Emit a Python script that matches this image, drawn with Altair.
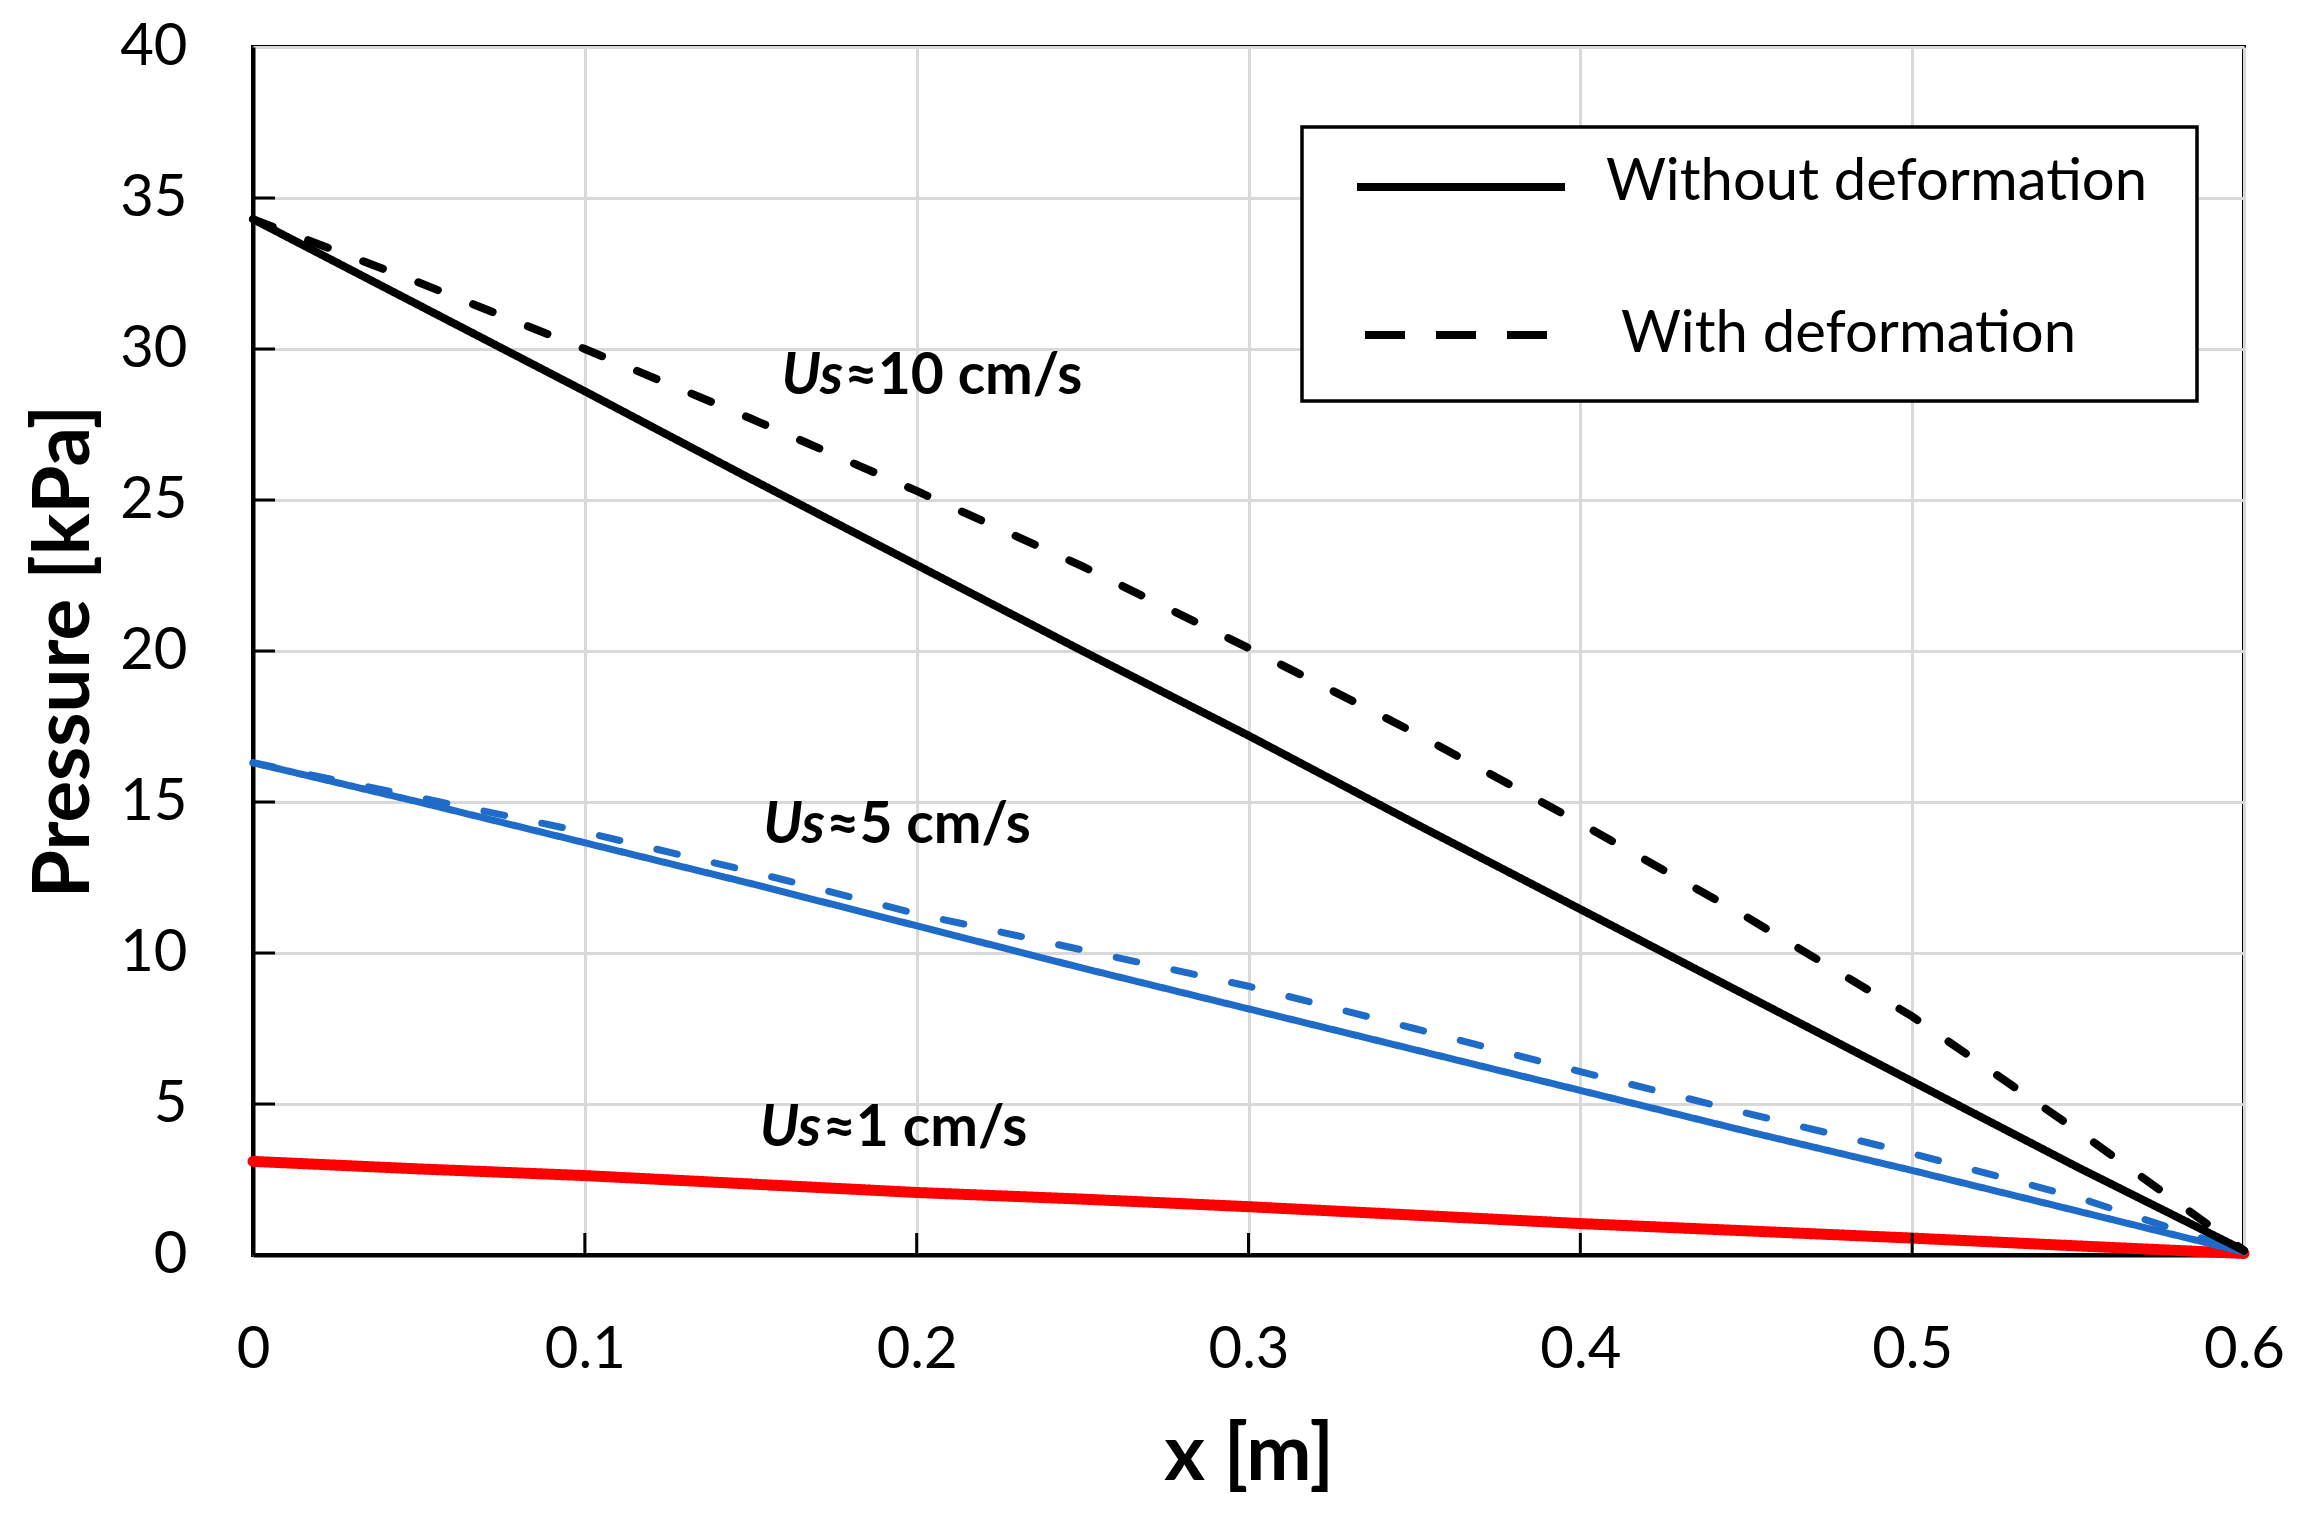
import altair as alt
import pandas as pd

# ---------------- data ----------------
x_m = [0.0, 0.05, 0.1, 0.15, 0.2, 0.25, 0.3, 0.35, 0.4, 0.45, 0.5, 0.55, 0.6]

us10_without = [34.3, 31.45, 28.6, 25.7, 22.85, 20.0, 17.2, 14.3, 11.45, 8.6, 5.75, 2.9, 0.15]
us10_with = [34.3, 32.2, 30.0, 27.7, 25.3, 22.8, 20.1, 17.3, 14.3, 11.2, 7.9, 4.1, 0.15]
us5_without = [16.3, 15.0, 13.65, 12.3, 10.9, 9.5, 8.15, 6.8, 5.45, 4.1, 2.8, 1.45, 0.1]
us5_with = [16.3, 15.15, 14.0, 12.7, 11.3, 10.1, 8.9, 7.5, 6.07, 4.7, 3.36, 1.9, 0.1]
us1_without = [3.1, 2.85, 2.63, 2.35, 2.07, 1.85, 1.6, 1.32, 1.04, 0.8, 0.56, 0.3, 0.05]

speeds = ["10", "5", "1"]
speed_colors = ["#000000", "#1f6bc8", "#ff0000"]
speed_widths = [8, 7, 11]
types = ["Without deformation", "With deformation"]

label_x = [0.1593, 0.1538, 0.1527]
label_y = [28.5, 13.65, 3.62]
label_rest = ["≈10 cm/s", "≈5 cm/s", "≈1 cm/s"]

x_ticks = [0, 0.1, 0.2, 0.3, 0.4, 0.5, 0.6]
y_ticks = [0, 5, 10, 15, 20, 25, 30, 35, 40]
x_inner_ticks = [0.1, 0.2, 0.3, 0.4, 0.5]
y_inner_ticks = [5, 10, 15, 20, 25, 30, 35]

FONT = "Lato"
W, H = 1991, 1208

# ---------------- tables ----------------
rows = []
for name, vals, sp, tp in [
    ("a", us10_without, "10", types[0]),
    ("b", us10_with, "10", types[1]),
    ("c", us5_without, "5", types[0]),
    ("d", us5_with, "5", types[1]),
    ("e", us1_without, "1", types[0]),
]:
    for xv, pv in zip(x_m, vals):
        rows.append({"x": xv, "p": pv, "speed": sp, "type": tp, "series": name})
df = pd.DataFrame(rows)

labels_df = pd.DataFrame({"x": label_x, "p": label_y, "us": ["Us"] * 3, "rest": label_rest})
xt_df = pd.DataFrame({"x": x_inner_ticks})
yt_df = pd.DataFrame({"p": y_inner_ticks})
one = pd.DataFrame({"k": [0]})

xscale = alt.Scale(domain=[0, 0.6], nice=False, zero=False)
yscale = alt.Scale(domain=[0, 40], nice=False)

xaxis = alt.Axis(
    values=x_ticks, format=".1~f", title="x [m]", grid=True, ticks=False, tickSize=0,
    labelPadding=112, labelBaseline="alphabetic", labelFontSize=58, labelFont=FONT,
    labelColor="#000000", titleFont=FONT, titleFontSize=78, titleFontWeight="bold",
    titleColor="#000000", titleY=224, titleBaseline="alphabetic",
    domainColor="#000000", domainWidth=4, gridColor="#d9d9d9", gridWidth=3,
    labelFlush=False, labelOverlap=False,
)
yaxis = alt.Axis(
    values=y_ticks, title="Pressure [kPa]", grid=True, ticks=False, tickSize=0,
    labelPadding=66, labelFontSize=58, labelFont=FONT, labelColor="#000000",
    titleFont=FONT, titleFontSize=78, titleFontWeight="bold", titleColor="#000000",
    titleX=-165, titleY=H / 2, titleBaseline="alphabetic", titleAngle=270,
    domainColor="#000000", domainWidth=4, gridColor="#d9d9d9", gridWidth=3,
    labelFlush=False, labelOverlap=False,
)


def speed_layer(i):
    sp = speeds[i]
    w = speed_widths[i]
    dash_on = 32 - w
    dash_off = 27 + w
    return alt.Chart(df).transform_filter(alt.datum.speed == sp).mark_line(
        strokeCap="round", strokeWidth=w, color=speed_colors[i]
    ).encode(
        x=alt.X("x:Q", scale=xscale, axis=xaxis),
        y=alt.Y("p:Q", scale=yscale, axis=yaxis),
        strokeDash=alt.StrokeDash(
            "type:N", scale=alt.Scale(domain=types, range=[[1, 0], [dash_on, dash_off]]), legend=None
        ),
        detail="series:N",
    )


red_line = speed_layer(2)
blue_line = speed_layer(1)
black_line = speed_layer(0)

us_text = alt.Chart(labels_df).mark_text(
    align="left", baseline="alphabetic", font=FONT, fontSize=57, fontWeight="bold",
    fontStyle="italic", color="#000000",
).encode(x=alt.X("x:Q", scale=xscale, axis=xaxis), y=alt.Y("p:Q", scale=yscale, axis=yaxis), text="us:N")

rest_text = alt.Chart(labels_df).mark_text(
    align="left", baseline="alphabetic", font=FONT, fontSize=57, fontWeight="bold",
    color="#000000", dx=63,
).encode(x=alt.X("x:Q", scale=xscale, axis=xaxis), y=alt.Y("p:Q", scale=yscale, axis=yaxis), text="rest:N")

# inner tick marks
xticks_marks = alt.Chart(xt_df).mark_rule(color="#000000", strokeWidth=3).encode(
    x=alt.X("x:Q", scale=xscale, axis=xaxis), y=alt.value(H - 22), y2=alt.value(H)
)
yticks_marks = alt.Chart(yt_df).mark_rule(color="#000000", strokeWidth=3).encode(
    y=alt.Y("p:Q", scale=yscale, axis=yaxis), x=alt.value(0), x2=alt.value(22)
)

# legend (drawn in the plot area)
leg_box = alt.Chart(one).mark_rect(fill="white", stroke="#000000", strokeWidth=3.5).encode(
    x=alt.value(1049), x2=alt.value(1944), y=alt.value(80), y2=alt.value(354)
)
leg_solid = alt.Chart(one).mark_rule(color="#000000", strokeWidth=8, strokeCap="butt").encode(
    x=alt.value(1104), x2=alt.value(1312), y=alt.value(140)
)
leg_dash = alt.Chart(one).mark_rule(
    color="#000000", strokeWidth=8, strokeCap="butt", strokeDash=[40, 31]
).encode(x=alt.value(1112), x2=alt.value(1295), y=alt.value(288))
leg_t1 = alt.Chart(one).mark_text(
    align="left", baseline="alphabetic", font=FONT, fontSize=58, color="#000000"
).encode(x=alt.value(1353), y=alt.value(153), text=alt.value(types[0]))
leg_t2 = alt.Chart(one).mark_text(
    align="left", baseline="alphabetic", font=FONT, fontSize=58, color="#000000"
).encode(x=alt.value(1368), y=alt.value(305), text=alt.value(types[1]))

chart = alt.layer(
    red_line, blue_line, black_line, us_text, rest_text, xticks_marks, yticks_marks,
    leg_box, leg_solid, leg_dash, leg_t1, leg_t2,
).properties(
    width=W, height=H,
    autosize=alt.AutoSizeParams(type="none"),
    padding={"left": 245, "top": 39, "right": 52, "bottom": 250},
    background="white",
).configure_view(
    stroke="#000000", strokeWidth=4
)

chart.save("out.html", embed_options={"renderer": "svg", "actions": False})
